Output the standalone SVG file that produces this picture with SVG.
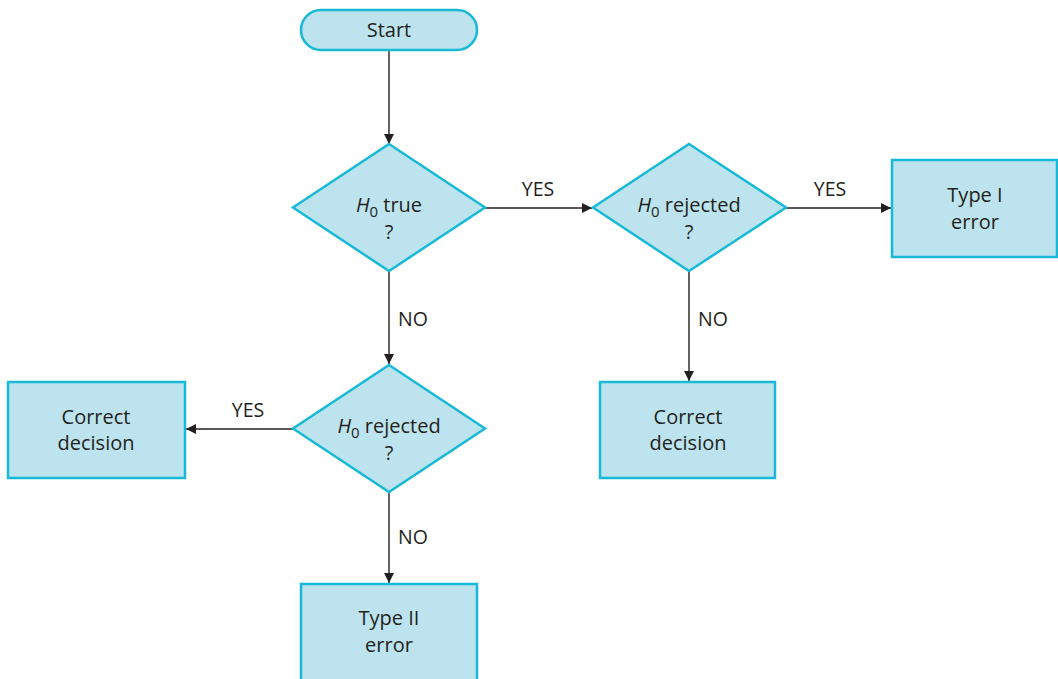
<svg xmlns="http://www.w3.org/2000/svg" width="1058" height="679" viewBox="0 0 1058 679">
<style>
.n{fill:#bde4ee;stroke:#17b9d6;stroke-width:2.5}
.t{font-family:"Open Sans","Noto Sans",sans-serif;font-size:20px;fill:#231f20;text-anchor:middle}
.l{font-family:"Open Sans","Noto Sans",sans-serif;font-size:19.5px;fill:#231f20;text-anchor:middle}
.c{stroke:#231f20;stroke-width:1.4;fill:none;marker-end:url(#a)}
</style>
<defs>
<marker id="a" viewBox="0 0 10 10" refX="10" refY="5" markerWidth="10" markerHeight="10" markerUnits="userSpaceOnUse" orient="auto">
<path d="M0,0L10,5L0,10z" fill="#231f20"/>
</marker>
</defs>
<rect width="1058" height="679" fill="#fff"/>
<g id="connectors">
<path class="c" d="M389,50V144"/>
<path class="c" d="M485,208H592"/>
<path class="c" d="M786,208H891"/>
<path class="c" d="M389,271V364"/>
<path class="c" d="M689,271V381"/>
<path class="c" d="M293,429H186"/>
<path class="c" d="M389,492V583"/>
<text class="l" x="538" y="196">YES</text>
<text class="l" x="830" y="196">YES</text>
<text class="l" x="413" y="326">NO</text>
<text class="l" x="713" y="326">NO</text>
<text class="l" x="248" y="417">YES</text>
<text class="l" x="413" y="544">NO</text>
</g>
<g id="start">
<rect class="n" x="301" y="10" width="176" height="40" rx="20"/>
<text class="t" x="389" y="37">Start</text>
</g>
<g id="d1">
<path class="n" d="M389,144L485,207.5L389,271L293,207.5z"/>
<text class="t" x="389" y="212"><tspan font-style="italic">H</tspan><tspan font-size="15" dy="5">0</tspan><tspan dy="-5"> true</tspan></text>
<text class="t" x="389" y="239">?</text>
</g>
<g id="d2">
<path class="n" d="M689,144L786,207.5L689,271L593,207.5z"/>
<text class="t" x="689" y="212"><tspan font-style="italic">H</tspan><tspan font-size="15" dy="5">0</tspan><tspan dy="-5"> rejected</tspan></text>
<text class="t" x="689" y="239">?</text>
</g>
<g id="d3">
<path class="n" d="M389,365L485,428.5L389,492L293,428.5z"/>
<text class="t" x="389" y="433"><tspan font-style="italic">H</tspan><tspan font-size="15" dy="5">0</tspan><tspan dy="-5"> rejected</tspan></text>
<text class="t" x="389" y="460">?</text>
</g>
<g id="type1">
<rect class="n" x="892" y="160" width="165" height="97"/>
<text class="t" x="975" y="202">Type I</text>
<text class="t" x="975" y="229">error</text>
</g>
<g id="correct-right">
<rect class="n" x="600" y="382" width="175" height="96"/>
<text class="t" x="688" y="424">Correct</text>
<text class="t" x="688" y="450">decision</text>
</g>
<g id="correct-left">
<rect class="n" x="8" y="382" width="177" height="96"/>
<text class="t" x="96" y="424">Correct</text>
<text class="t" x="96" y="450">decision</text>
</g>
<g id="type2">
<rect class="n" x="301" y="584" width="176" height="100"/>
<text class="t" x="389" y="625">Type II</text>
<text class="t" x="389" y="652">error</text>
</g>
</svg>
